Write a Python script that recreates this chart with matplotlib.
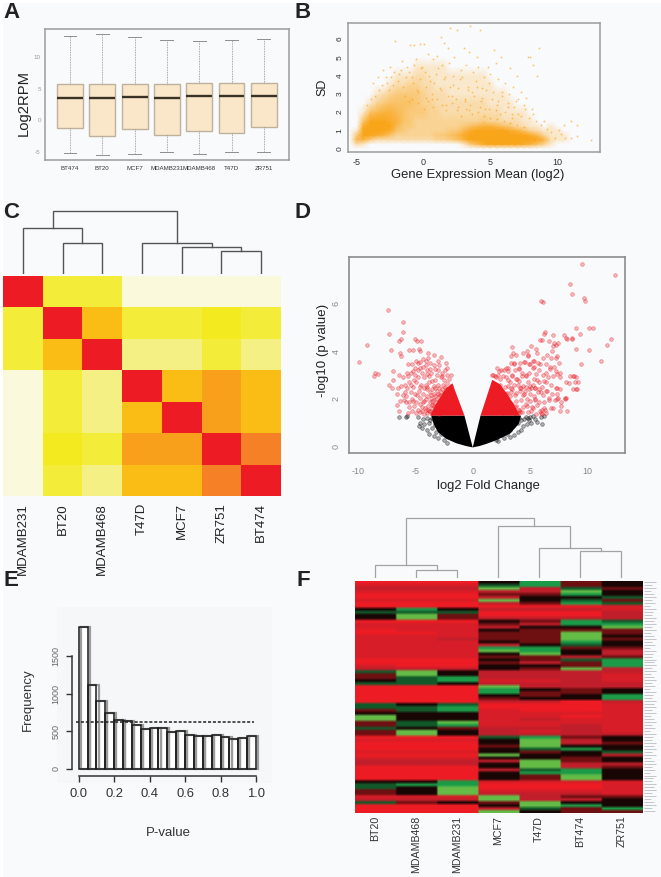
import numpy as np
import matplotlib
matplotlib.use('Agg')
import matplotlib.pyplot as plt
from matplotlib.colors import LinearSegmentedColormap, ListedColormap, BoundaryNorm
from matplotlib.patches import Rectangle

plt.rcParams['font.family'] = ['Liberation Sans', 'DejaVu Sans']
plt.rcParams['axes.unicode_minus'] = False
W, H = 661, 877
BG = '#F9FAFC'
INK = '#222222'

# ---- Panel A
samples_a = ['BT474', 'BT20', 'MCF7', 'MDAMB231', 'MDAMB468', 'T47D', 'ZR751']
whis_lo = [-5.1, -5.4, -5.25, -4.95, -5.25, -5.05, -4.95]
q1 = [-1.25, -2.45, -1.4, -2.35, -1.75, -2.05, -1.1]
med = [3.6, 3.6, 3.65, 3.6, 3.9, 3.8, 3.8]
q3 = [5.75, 5.75, 5.75, 5.75, 5.95, 5.85, 5.85]
whis_hi = [13.3, 13.65, 13.15, 12.75, 12.6, 12.7, 12.95]

# ---- Panel B: density read per region (0 empty .. 9 solid), plus isolated points
b_x = [-5.5, -5, -4.5, -4, -3.5, -3, -2.5, -2, -1.5, -1, -.5, 0, .5, 1, 1.5, 2, 2.5, 3,
       3.5, 4, 4.5, 5, 5.5, 6, 6.5, 7, 7.5, 8, 8.5, 9, 9.5, 10, 10.5, 11, 11.5, 12]
b_y = [0, .25, .5, .75, 1, 1.25, 1.5, 2, 2.5, 3, 3.5, 4, 4.5, 5]
b_density = [
    [0,0,0,0,0,0,0,0,0,0,0,0,0,0,0,0,0,0,0,0,0,0,0,0,0,0,0,0,0,0,0,0,0,0,0,0],
    [0,2,1,0,0,0,0,0,0,0,0,0,0,0,0,0,0,1,4,6,8,9,9,9,9,9,8,7,5,3,1,0,0,0,0,0],
    [0,6,7,4,2,2,2,2,2,2,2,2,2,3,3,4,5,7,9,9,9,9,9,9,9,9,9,9,9,7,2,1,1,0,0,0],
    [0,4,9,9,8,7,5,3,3,3,3,3,3,4,4,5,6,8,9,9,9,9,9,9,9,9,9,8,6,3,1,1,1,0,0,0],
    [0,1,9,9,9,9,8,5,4,3,3,3,3,3,3,4,4,6,8,9,9,9,9,9,8,7,5,3,2,1,1,1,0,0,0,0],
    [0,0,8,9,9,9,9,6,4,4,3,3,3,3,3,3,3,4,5,6,7,7,6,5,4,2,2,1,1,0,1,0,0,0,0,0],
    [0,0,5,9,9,9,8,7,5,4,3,3,3,3,3,3,3,3,3,3,4,3,3,2,2,2,1,1,0,0,0,0,0,0,0,0],
    [0,0,1,5,6,7,7,6,5,4,4,4,3,3,2,2,2,2,2,2,2,2,2,1,1,1,1,0,0,0,0,0,0,0,0,0],
    [0,0,0,1,3,4,5,5,5,5,4,3,3,2,2,2,2,2,2,2,2,1,1,1,1,0,0,0,0,0,0,0,0,0,0,0],
    [0,0,0,0,1,2,3,4,4,4,4,3,2,2,2,1,1,1,1,1,1,1,1,1,0,0,0,0,0,0,0,0,0,0,0,0],
    [0,0,0,0,0,0,1,2,2,3,3,2,2,1,1,1,1,1,1,1,1,1,0,0,0,0,0,0,0,0,0,0,0,0,0,0],
    [0,0,0,0,0,0,0,1,1,1,2,2,1,1,1,1,1,1,1,1,1,0,0,0,0,0,0,0,0,0,0,0,0,0,0,0],
    [0,0,0,0,0,0,0,0,0,0,1,1,1,1,1,0,0,0,0,0,0,0,0,0,0,0,0,0,0,0,0,0,0,0,0,0],
    [0,0,0,0,0,0,0,0,0,0,0,0,0,0,0,0,0,0,0,0,0,0,0,0,0,0,0,0,0,0,0,0,0,0,0,0],
]
b_sparse_x = [-2.1,-1,-.7,-.3,0,1.5,1.3,1.8,2,2.5,3.5,4.2,3,3.4,4,5.3,5.8,5.4,4.8,8.6,8.2,8,7.8,8.5,6.5,7,
              9,10.5,11,11.5,11.5,12.5,11,10.3,-3,-2.5,-2.8,-1.6,-1.2,-.6,-.2,.3,.7,1,1.4,1.9,2.3,2.8,3.2,3.7,4.1,
              4.5,5,5.6,6.1,6.7,7.3,7.7,-3.8,-3.4,-2.3,-1.8,-.9,.1,.5,.9,1.6,2.2,2.7,3.3,3.9,4.4,4.9,5.2,5.9,6.4,6.9,7.5,8.1,
              -1.4,-.4,.6,1.2,2.1,3.1,3.6,4.3,5.5,6.3,7.1,-2.6,-1.1,.2,1.7,2.6,3.4,4.6,5.7,6.6]
b_sparse_y = [5.9,5.7,5.7,5.75,5.75,5.8,6.1,5.5,6.6,6.5,6.7,6.5,5.5,5.3,5,5.4,5,4.7,4.5,5.5,4.6,5,5,4,4.4,4,
              1.5,1.3,1.5,1.3,.7,.45,.6,.8,4.3,4.5,3.9,4.8,4.5,4.9,4.4,5.2,4.9,5.1,4.6,4.7,5,4.3,4.6,4.2,4.5,
              3.9,4.1,3.8,3.6,3.4,3.1,2.8,3.6,3.9,3.5,4.1,3.9,4.2,3.7,4.1,3.9,3.5,3.8,3.4,3.7,3.3,3.6,3.1,2.9,3,2.6,2.4,2.2,
              2.9,3.1,2.7,3.3,2.9,2.7,3.1,2.6,2.4,2.3,1.9,3.2,2.6,2.8,2.4,2.3,2.1,2.2,1.9,1.7]
b_haze_points = [(-4.2,2.4),(-3.9,2.7),(-3.6,2.9),(-3.3,3.2),(-3.1,3.5),(-2.7,3.6),(-2.4,3.9),(-2.2,4.2),(-1.9,3.7),(-1.7,4.3),
                 (-1.5,3.4),(-1.3,3.9),(-1.1,4.2),(-.8,3.6),(-.7,4.6),(-.5,3.2),(-.3,3.8),(-.1,4.5),(.2,3.4),(.4,4.0),
                 (.6,3.0),(.8,3.6),(1.1,4.4),(1.3,3.2),(1.5,3.8),(1.8,2.9),(2,3.4),(2.2,4),(2.4,2.7),(2.6,3.3),
                 (2.9,3.9),(3.1,2.6),(3.3,3.2),(3.5,2.4),(3.8,2.9),(4,3.4),(4.2,2.3),(4.4,2.8),(4.7,3.2),(4.9,2.2),
                 (5.1,2.7),(5.4,2.1),(5.6,2.6),(5.9,3.1),(6.1,2.0),(6.3,2.5),(6.6,1.9),(6.8,2.3),(7.1,2.7),(7.3,1.8),
                 (7.6,2.2),(7.9,1.7),(8.2,1.9),(8.4,1.5),(8.8,1.3),(9.2,1.1),(9.5,.9),(9.8,.6),(10.1,1.0),(10.6,.6),
                 (-.9,2.7),(-.4,2.5),(0,2.2),(.3,2.6),(.7,2.3),(1,2.7),(1.4,2.4),(1.7,2.1),(2.1,2.5),(2.5,2.1),
                 (2.8,1.8),(3.2,2.2),(3.6,1.9),(4.1,2.0),(4.5,1.8),(5,1.7),(5.5,1.6),(6,1.5),(6.5,1.4),(7,1.3),(7.5,1.2)]

# ---- Panel C
labels_c = ['MDAMB231', 'BT20', 'MDAMB468', 'T47D', 'MCF7', 'ZR751', 'BT474']
corr_levels = [
    [7, 2, 2, 0, 0, 0, 0],
    [2, 7, 4, 2, 2, 3, 2],
    [2, 4, 7, 1, 1, 2, 1],
    [0, 2, 1, 7, 4, 5, 4],
    [0, 2, 1, 4, 7, 5, 4],
    [0, 3, 2, 5, 5, 7, 6],
    [0, 2, 1, 4, 4, 6, 7],
]
corr_colors = ['#FAF9DB', '#F5F084', '#F3EC38', '#F3EA1F', '#F9BD16', '#F8A01C', '#F58025', '#ED1C24']
# merges: (left x, left base, right x, right base, height)
tree_c = [(5, 0, 6, 0, 23), (4, 0, 5.5, 23, 27), (3, 0, 4.75, 27, 31),
          (1, 0, 2, 0, 30.4), (0, 0, 1.5, 30.4, 45.4), (.75, 45.4, 3.875, 31, 62.7)]

# ---- Panel D: dense wedges (outlines) and individual points
wedge_x_black_l = [0, -.72, -3.6, -3.4, -3.0, -2.3, -1.4, -.6]
wedge_y_black_l = [-.03, 1.3, 1.3, .95, .6, .33, .14, .03]
wedge_x_black_r = [0, .68, 4.2, 4.0, 3.25, 2.1, 1.2, .6]
wedge_y_black_r = [-.03, 1.3, 1.3, .95, .55, .28, .12, .03]
wedge_x_red_l = [-.72, -1.77, -2.3, -2.85, -3.3, -3.7]
wedge_y_red_l = [1.3, 2.65, 2.45, 2.05, 1.7, 1.3]
wedge_x_red_r = [.68, 1.7, 2.4, 3.0, 3.6, 4.1]
wedge_y_red_r = [1.3, 2.8, 2.6, 2.2, 1.75, 1.3]
red_x = [-9.9,-9.2,-8.6,-8.5,-8.2,-7.4,-7.3,-7.1,-6.9,-7.3,-7,-6.1,-6.1,-6.2,-6.4,-6.2,-6.3,-5.5,-5.2,-5,-4.85,-4.5,-4.7,-4.6,-4.95,-4.8,
         -3.9,-3.4,-2.8,-3.9,-4.1,-3.7,-3,-3.4,-2.9,-2.3,-2.2,-2.7,
         -6.4,-6.1,-5.9,-5.7,-5.4,-5.2,-5,-4.8,-4.6,-4.4,-4.2,-4,-3.8,-3.6,-3.3,-3.1,-2.8,-2.5,-2.2,-1.9,-5.5,-5.2,-4.9,-4.5,-4.1,-3.8,-3.4,-3,-2.6,-2.2,-1.9,-2.4,
         -6.5,-5.9,-5.8,-5.4,-5,-4.7,-4.3,-4,-3.7,-3.4,-3.1,-2.8,-2.5,-2.3,-4.6,-4.1,-3.6,-3.2,-2.9,-2.6,-3,-5.3,
         -6.6,-6.4,-6.3,-6,-5.8,-5.6,-5.5,-5.2,-5.1,-4.9,-4.8,-4.6,-4.4,-4.2,-4,-3.9,-3.7,-3.5,-3.5,-3.3,-3.2,-3,-2.9,-3.4,-2.8,-2.9,
         -4.45,-4.2,-3.85,-3.55,-3.2,-2.95,-2.65,-3.65,-4.35,-3.95,-4.15,-3.35,-3.15,-2.75,-3.55,-3.25,-2.85,-2.45,-3.75,-3.05,
         12.4,9.5,8.5,8.6,9.7,9.75,5.95,6.15,10.1,10.5,9,9.3,8.6,8.6,8.2,8.1,7.9,6.25,6.2,6,5.85,7,6.65,7.1,7.2,7.4,12,11.7,10.1,9,11.2,
         9.4,7,6.9,7.3,7.2,7.5,3.4,3.5,3.3,5.1,5.5,5.6,4.7,4.8,3.1,3.8,2.9,3.3,2.7,3.6,2.3,1.8,1.7,2,2.5,2.9,3.1,3.4,3.7,4,4.3,4.6,4.9,5.2,5.5,5.8,6.1,6.4,6.7,7,7.3,7.6,
         8.5,8.8,9,8.9,9,8.1,8,7.6,7.3,8,8.2,7.4,7.6,7.7,8.7,
         2.4,2.8,3.2,3.6,4,4.4,4.8,5.2,5.6,6,6.4,6.8,7.2,2.5,2.9,3.3,3.7,4.1,4.5,4.9,5.3,5.7,6.1,6.5,6.9,7.3,
         2.6,3,3.4,3.8,4.2,4.6,5,5.4,5.8,6.2,6.6,7,2.8,3.2,3.6,4,4.4,4.8,5.2,5.6,6,6.4,3.5,3.9,4.3,4.7,5.1,5.5,5.9,6.3,
         3.4,3.8,4.2,4.6,5,5.4,5.8,3.6,4,4.5,4.9,5.3,2.6,2.3,3.05,3.55,2.75,3.25,2.95,2.65,4.15,3.75]
red_y = [3.55,4.25,2.95,3.1,3.05,5.7,4.7,4.05,3.15,2.6,2.45,5.2,4.8,4.5,4.4,3.8,3.9,4.05,4.05,4.5,4.4,4.4,4.1,4,3.6,3.5,
         3.9,3.85,3.75,3.7,3.6,3.5,3.6,3.4,3.4,3.5,3.3,3.1,
         3,2.9,2.6,3.1,3.1,3.15,3,3.2,3.3,3.1,2.9,3.2,2.95,3.1,2.8,3,2.9,2.8,3,3,2.7,2.5,2.7,2.6,2.6,2.7,2.55,2.6,2.6,2.65,2.55,2.5,
         2.45,2.3,2.1,2.3,2.2,2.35,2.2,2.4,2.3,2.2,2.35,2.3,2.25,2.4,2.05,2,2.05,2,2.1,2,2.2,2,
         1.75,1.5,1.9,1.95,1.85,1.4,1.85,1.9,1.7,1.4,1.55,1.8,1.5,1.9,1.4,1.7,1.85,1.4,1.6,1.8,1.45,1.65,1.9,1.95,1.45,1.35,
         1.65,1.35,1.55,1.75,1.55,1.85,2.05,2.15,1.85,2.1,1.6,1.4,1.75,1.6,1.9,2.1,2.15,2.3,1.5,1.5,
         7.2,7.65,6.8,6.4,6.2,6.1,6.1,6.05,4.95,4.95,4.95,4.7,4.5,4.55,4.5,4.55,4.65,4.8,4.7,4.45,4.45,4.65,4.4,4.35,4.25,4.35,4.5,4.25,4.05,4.1,3.6,
         3.45,4.2,4,3.8,3.7,3.5,4.15,3.9,3.8,4.2,4.1,3.9,4,3.85,3.3,3.85,3.3,3.5,3.2,3.5,3.15,3,3,2.9,3.2,2.9,3.15,3,3.2,3.25,3.1,3,3.1,3.3,3.05,3.2,3,3.1,3.25,2.95,3.05,3.1,
         2.95,2.95,2.9,2.7,2.4,2.7,2.05,2.4,2.2,2,1.5,2.05,1.5,1.7,2.4,
         2.6,2.5,2.7,2.6,2.75,2.55,2.7,2.6,2.8,2.5,2.7,2.6,2.45,2.1,2.2,2.3,2.15,2.35,2.2,2.4,2.1,2.3,2.15,2.35,2.2,2,
         1.9,1.95,1.8,1.9,1.95,1.8,1.9,2,1.85,1.6,1.95,1.6,1.45,1.6,1.5,1.55,1.65,1.45,1.6,1.75,1.35,1.4,1.5,1.4,1.45,1.7,1.5,1.35,1.4,1.55,
         2.4,2.85,2.45,2.5,2.55,2.45,2.4,3.45,3.3,3.55,3.45,3.6,1.75,1.6,2.55,1.55,2.2,2.1,2.05,1.4,1.45,1.7]
red_pairs = list(zip(red_x, red_y))
red_extra = [(-6.9,2.8),(-6.6,2.2),(-6.2,2.55),(-6.05,2.15),(-5.75,2.45),(-5.6,2.95),(-5.35,2.6),(-5.1,2.8),(-5.65,3.45),(-5.3,3.45),
             (-5.05,3.3),(-4.75,2.9),(-4.55,3.55),(-4.3,3.65),(-4.35,3.35),(-4.05,3.4),(-3.95,3.05),(-3.75,3.25),(-3.55,2.75),(-3.25,3.25),
             (-3.0,3.2),(-2.65,2.95),(-2.45,3.2),(-2.1,2.85),(-4.85,2.15),(-4.55,2.5),(-4.25,2.45),(-3.95,2.5),(-3.5,2.4),(-3.25,2.45),
             (-2.95,2.45),(-2.7,2.4),(-5.55,1.65),(-5.3,1.5),(-4.95,1.85),(-4.55,1.45),(-4.1,1.55),(-3.8,1.5),(-3.45,1.75),
             (2.1,3.3),(2.2,3.0),(1.9,2.95),(3.9,2.6),(4.1,3.5),(4.4,3.9),(4.55,3.55),(4.85,3.8),(4.95,3.45),(5.25,3.6),(5.35,3.35),
             (5.65,3.5),(5.85,3.45),(6.1,3.7),(6.35,3.45),(6.5,3.85),(6.85,3.7),(6.2,2.75),(6.55,2.9),(6.75,3.35),(7.05,3.35),
             (7.25,3.15),(7.55,2.9),(7.35,2.45),(7.15,1.95),(6.65,2.05),(6.2,1.85),(6.85,1.6),(5.9,2.3),(5.35,2.85),(5.05,2.45),
             (4.65,2.95),(4.25,2.95),(3.85,2.85),(3.45,2.95),(3.05,2.8),(2.65,2.95),(2.35,2.85),(4.35,2.15),(4.75,2.0),(5.15,1.65),
             (5.45,1.95),(5.85,1.5),(6.05,1.55),(4.05,1.55),(3.65,1.65),(3.25,1.8),(2.95,2.25),(3.35,2.45),(3.75,2.25),(4.15,2.45),
             (4.55,2.35),(4.95,2.2),(5.4,2.45),(5.75,2.7),(6.35,2.35),(7.65,1.85),(8.15,2.05),(8.35,2.65),(9.05,2.4),(9.15,2.7),(8.7,2.95)]
black_x = [-6.4,-5.7,-5.8,-4.8,-4.6,-4.7,-4.4,-4.2,-4.3,-4,-4,-3.8,-3.8,-3.5,-3.4,-3.5,-3.2,-3,-3,-2.8,-2.5,-2.4,-2.2,-3.2,
           6.2,5.9,6,5.6,5.4,5.2,5.1,4.9,4.7,4.5,4.4,4.2,4.2,3.9,3.9,3.6,3.5,3.2,3.2,3,2.7,2.5,2.2,2,5,-3.7,-3.3,-2.9,-2.6,3.7,4,4.6,3.4,4.8]
black_y = [1.25,1.3,1.25,1.25,1,.85,.8,.95,1.15,.7,1.2,.55,1,.8,.45,1.2,.6,.35,.8,.55,.3,.5,.15,1.05,
           1.3,1.25,.95,1.05,1.15,1.3,1,1.1,.95,1.15,.85,.7,1.1,.6,1,.5,.85,.4,.7,.55,.35,.5,.25,.3,1.25,1.1,.9,1.15,.75,1.25,1.2,1.25,1.1,1.2]

# ---- Panel E
hist_counts = [1890, 1120, 905, 745, 655, 640, 580, 530, 540, 540, 490, 500, 450, 430, 430, 450, 420, 390, 410, 430]
hist_null = 625

# ---- Panel F
labels_f = ['BT20', 'MDAMB468', 'MDAMB231', 'MCF7', 'T47D', 'BT474', 'ZR751']
tree_f = [(1, 0, 2, 0, 8.3), (0, 0, 1.5, 8.3, 13), (5, 0, 6, 0, 27.6), (4, 0, 5.5, 27.6, 30.6),
          (3, 0, 4.75, 30.6, 52.3), (.75, 13, 3.875, 52.3, 60)]
tone_value = {'R': 1.0, 'S': .9, 'r': .8, 'd': .4, 'k': .05, 'g': -.4, 'G': -.7, 'L': -1.0}
heat_rows = ['RRRkGdk','SSSgGdk','rrrLrgd','SSSrrLk','RRRddGk','RRRrkkg','SSSLkgd','RRRrdGg','RRRRRRS','kGkrrrS',
             'gggRRRr','kLdRRRr','kLdrrrr','RRRkdGg','SSSdrGG','SSSrkkL','RSSkddd','RRSddLd','SSSddLk','SSrddLd',
             'SSSkdGk','SSSrkgk','SSSGGdd','SSSLGkr','SSSkLkr','SSSddrd','RRRkdgG','RRRdrdG','SRRkkdG','rrrkdLr',
             'gLkrrrr','dLkrrrS','dgGrrrS','kgGSSrS','ggkrrrr','RRRLrrr','RRRGkdk','RRRGddk','RRRkdkG','RRRdkkG',
             'RRRrrRr','gkgRRRS','ggGRRRS','dgGSRRS','kkkSSSS','LkkSSRS','LkkSrSS','dgLSSSS','dgGSSrS','gkdrrrS',
             'dLkrSrS','dLkrrrr','RRRgGdk','SSSkLrk','RRRkLrd','RRRdLkk','RRRkgGk','SSSkdkg','RRRLkkr','SSSkkdk',
             'rrrrLdk','rrrkLrr','RRRkLrd','RRRrgGk','RRRkGGk','RRRkdLk','RRRkdLk','kkGSSSS','gGGRRRS','gkLRRRS',
             'dkLSSSS','dkLrrrS','SSSLrdd','rrrLrrk','gdkdLkk','RRRkLGk','RRRrgdG','RRRLkdd']
gene_dash = [.28,.2,.3,.16,.24,.3,.18,.26,.14,.3,.22,.18,.28,.24]

fig = plt.figure(figsize=(W / 100, H / 100), dpi=100, facecolor='white')
fig.add_artist(Rectangle((3 / W, 0), 1, 1 - 3 / H, transform=fig.transFigure, fc=BG, ec='none', zorder=-10))
fig.add_artist(Rectangle((57 / W, 1 - 783 / H), 215 / W, 176 / H, transform=fig.transFigure, fc='#F6F7F9', ec='none', zorder=-9))


def axpx(l, t, r, b):
    ax = fig.add_axes([l / W, 1 - b / H, (r - l) / W, (b - t) / H])
    ax.patch.set_alpha(0)
    return ax


def tpx(x, y, s, **kw):
    kw.setdefault('ha', 'center')
    kw.setdefault('va', 'center')
    kw.setdefault('color', INK)
    fig.text(x / W, 1 - y / H, s, **kw)


for letter, x, y in [('A', 11, 13), ('B', 303, 13), ('C', 11, 212), ('D', 303, 212), ('E', 11, 581), ('F', 303, 581)]:
    tpx(x, y, letter, fontsize=16, fontweight='bold')


def frame(ax, color='#9B9B9B', lw=1.1):
    for s in ax.spines.values():
        s.set_color(color)
        s.set_linewidth(lw)


def draw_tree(ax, tree, color, lw):
    for xl, bl, xr, br, h in tree:
        ax.plot([xl, xl, xr, xr], [bl, h, h, br], color=color, lw=lw, solid_joinstyle='miter')


# A
ax = axpx(45, 29, 289, 160)
stats = [dict(whislo=a, q1=b, med=c, q3=d, whishi=e) for a, b, c, d, e in zip(whis_lo, q1, med, q3, whis_hi)]
ax.bxp(stats, positions=range(1, 8), widths=.8, patch_artist=True, showfliers=False,
       boxprops=dict(facecolor='#FAE7C9', edgecolor='#BFB29C', linewidth=1),
       medianprops=dict(color='#3A3224', linewidth=1.7),
       whiskerprops=dict(color='#8E8E8E', linewidth=.6, linestyle=(0, (1, 1))),
       capprops=dict(color='#8E8E8E', linewidth=.7))
ax.set_xlim(.226, 7.78)
ax.set_ylim(-6.27, 14.48)
ax.set_yticks([-5, 0, 5, 10])
ax.tick_params(axis='y', length=0, labelsize=4.5, labelcolor='#999999', pad=3)
ax.set_xticks(range(1, 8), samples_a)
ax.tick_params(axis='x', length=0, labelsize=4.4, labelcolor='#333333', pad=4.5)
frame(ax)
tpx(24, 103, 'Log2RPM', rotation=90, fontsize=10.6)

# B
ax = axpx(348, 22.7, 600, 152)
orange = '#F9A51A'
cm = LinearSegmentedColormap.from_list('o', [BG, orange])
ax.pcolormesh(b_x, b_y, (np.array(b_density) / 9) ** .7, cmap=cm, vmin=0, vmax=1, shading='gouraud', rasterized=True)
ax.scatter(b_sparse_x, b_sparse_y, s=1.8, color=orange, alpha=.6, linewidths=0)
ax.scatter([p[0] for p in b_haze_points], [p[1] for p in b_haze_points], s=1.8, color=orange, alpha=.6, linewidths=0)
ax.set_xlim(-5.65, 13.2)
ax.set_ylim(-.18, 6.9)
ax.set_xticks([-5, 0, 5, 10])
ax.set_yticks(range(7))
ax.tick_params(axis='x', length=0, labelsize=6.5, labelcolor='#333333', pad=4)
ax.tick_params(axis='y', length=0, labelsize=6, labelcolor='#333333', pad=3, labelrotation=90)
for t in ax.get_yticklabels():
    t.set_va('center')
frame(ax)
tpx(478, 175, 'Gene Expression Mean (log2)', fontsize=9.4)
tpx(322, 87, 'SD', rotation=90, fontsize=9)

# C
ax = axpx(3, 276, 281, 495.7)
ax.imshow(np.array(corr_levels), cmap=ListedColormap(corr_colors),
          norm=BoundaryNorm(np.arange(-.5, 8.5), 8), aspect='auto', interpolation='nearest')
ax.axis('off')
ax = axpx(3, 205, 281, 273.7)
draw_tree(ax, tree_c, '#555555', 1)
ax.set_xlim(-.5, 6.5)
ax.set_ylim(0, 68.7)
ax.axis('off')
for i, lab in enumerate(labels_c):
    tpx(3 + (i + .5) * 278 / 7, 503, lab, rotation=90, va='top', fontsize=9.5)

# D
ax = axpx(349, 257.3, 625.3, 453.3)
ax.fill(wedge_x_black_l, wedge_y_black_l, color='black', lw=0, zorder=2)
ax.fill(wedge_x_black_r, wedge_y_black_r, color='black', lw=0, zorder=2)
ax.scatter(black_x, black_y, s=7, facecolor=(0, 0, 0, .3), edgecolor=(0, 0, 0, .45), linewidths=.5, zorder=2)
ax.fill(wedge_x_red_l, wedge_y_red_l, color='#ED1C24', lw=0, zorder=3)
ax.fill(wedge_x_red_r, wedge_y_red_r, color='#ED1C24', lw=0, zorder=3)
ax.scatter([p[0] for p in red_pairs], [p[1] for p in red_pairs], s=7, facecolor=(.93, .11, .14, .3),
           edgecolor=(.93, .11, .14, .45), linewidths=.5, zorder=3)
ax.scatter([p[0] for p in red_extra], [p[1] for p in red_extra], s=7, facecolor=(.93, .11, .14, .3),
           edgecolor=(.93, .11, .14, .45), linewidths=.5, zorder=3)
ax.set_xlim(-10.76, 13.27)
ax.set_ylim(-.276, 7.92)
ax.set_xticks([-10, -5, 0, 5, 10])
ax.set_yticks([0, 2, 4, 6])
ax.tick_params(axis='x', length=0, labelsize=6.5, labelcolor='#888888', pad=10)
ax.tick_params(axis='y', length=0, labelsize=6.5, labelcolor='#888888', pad=6, labelrotation=90)
for t in ax.get_yticklabels():
    t.set_va('center')
frame(ax, '#8C8C8C', 1.2)
tpx(488, 486, 'log2 Fold Change', fontsize=9.4)
tpx(323, 350, '-log10 (p value)', rotation=90, fontsize=9.6)

# E
ax = axpx(71.7, 600, 260, 775.7)
edges = np.arange(20) * .05
ax.bar(edges, hist_counts, width=.05, align='edge', fc='white', ec='none', zorder=1)
ax.bar(edges + .012, hist_counts, width=.05, align='edge', fc='none', ec='#9C9C9C', lw=1.6, zorder=2)
ax.bar(edges, hist_counts, width=.05, align='edge', fc='none', ec='#1A1A1A', lw=1.1, zorder=3)
ax.plot([-.015, .99], [hist_null, hist_null], color='#222222', lw=1.1, ls=(0, (2, 1.2)), zorder=4)
ax.set_xlim(-.0395, 1.0226)
ax.set_ylim(-93, 2249)
for s in ['top', 'right']:
    ax.spines[s].set_visible(False)
ax.spines['left'].set_bounds(0, 1500)
ax.spines['bottom'].set_bounds(0, 1)
ax.spines['left'].set_linewidth(1.1)
ax.spines['bottom'].set_linewidth(1.1)
ax.spines['left'].set_color('#333333')
ax.spines['bottom'].set_color('#333333')
ax.set_xticks(np.arange(6) * .2, ['0.0', '0.2', '0.4', '0.6', '0.8', '1.0'])
ax.set_yticks([0, 500, 1000, 1500])
ax.tick_params(axis='x', length=4, width=1, labelsize=9.4, labelcolor='#333333', pad=5, color='#333333')
ax.tick_params(axis='y', length=4, width=1, labelsize=6.5, labelcolor='#666666', pad=4, labelrotation=90, color='#333333')
for t in ax.get_yticklabels():
    t.set_va('center')
tpx(28, 700, 'Frequency', rotation=90, fontsize=9.5, color='#333333')
tpx(168, 833, 'P-value', fontsize=9.5, color='#333333')

# F
ax = axpx(354.7, 580.7, 641.7, 812.7)
heat = np.array([[tone_value[c] for c in row] for row in heat_rows])
hm = LinearSegmentedColormap.from_list('gkr', [
    (0, '#64BC46'), (.15, '#1B9A48'), (.3, '#12592A'), (.5, '#0C0503'),
    (.7, '#6E0F12'), (.9, '#C01F2B'), (1, '#ED1C24')])
n_rows = len(heat_rows)
ax.imshow(np.repeat(heat, 20, axis=1), cmap=hm, vmin=-1, vmax=1, aspect='auto', interpolation='bilinear',
          extent=(-.5, 6.5, n_rows - .5, -.5))
for i in range(n_rows):
    ax.plot([6.56, 6.56 + gene_dash[i % len(gene_dash)]], [i, i], color='#C4C6CC', lw=.7, clip_on=False,
            solid_capstyle='butt')
ax.set_xlim(-.5, 6.5)
ax.set_ylim(n_rows - .5, -.5)
ax.axis('off')
ax = axpx(354.7, 515, 641.7, 578.3)
draw_tree(ax, tree_f, '#A3A3A3', .9)
ax.set_xlim(-.5, 6.5)
ax.set_ylim(0, 63.3)
ax.axis('off')
for i, lab in enumerate(labels_f):
    tpx(354.7 + (i + .5) * 287 / 7, 815.7, lab, rotation=90, va='top', fontsize=7.7, color='#333333')

fig.savefig('out.png', dpi=100, facecolor=fig.get_facecolor())
